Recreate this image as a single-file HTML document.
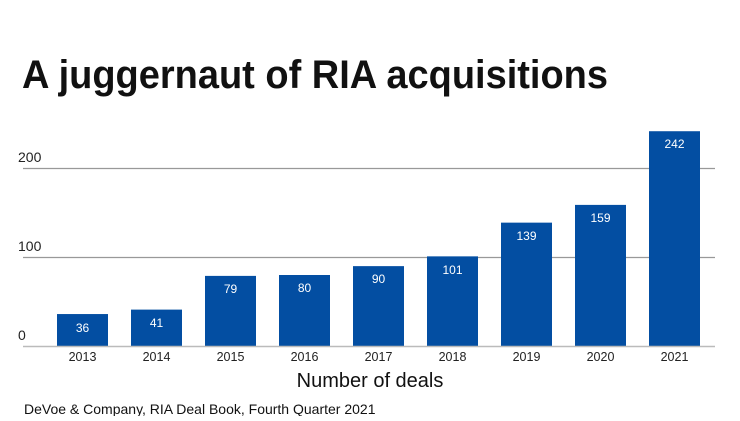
<!DOCTYPE html>
<html><head><style>
body{margin:0;width:740px;height:416px;background:#fff;overflow:hidden;font-family:"Liberation Sans",sans-serif}
</style></head><body>
<svg width="740" height="416" xmlns="http://www.w3.org/2000/svg" font-family="Liberation Sans, sans-serif">
<text x="22" y="88" font-size="40" font-weight="bold" fill="#111" textLength="586" lengthAdjust="spacingAndGlyphs">A juggernaut of RIA acquisitions</text>
<g stroke="#999" stroke-width="1.3">
<line x1="23" x2="715" y1="168.5" y2="168.5"/>
<line x1="23" x2="715" y1="257.5" y2="257.5"/>
</g>
<g font-size="14" fill="#222">
<text x="18" y="162">200</text>
<text x="18" y="251">100</text>
<text x="18" y="340">0</text>
</g>
<g fill="#034ea2">
<rect x="57" y="314.05" width="51" height="31.95"/>
<rect x="131" y="309.61" width="51" height="36.39"/>
<rect x="205" y="275.89" width="51" height="70.11"/>
<rect x="279" y="275" width="51" height="71"/>
<rect x="353" y="266.13" width="51" height="79.87"/>
<rect x="427" y="256.36" width="51" height="89.64"/>
<rect x="501" y="222.64" width="51" height="123.36"/>
<rect x="575" y="204.89" width="51" height="141.11"/>
<rect x="649" y="131.22" width="51" height="214.78"/>
</g>
<g font-size="12" fill="#fff" text-anchor="middle">
<text x="82.5" y="332">36</text>
<text x="156.5" y="327">41</text>
<text x="230.5" y="293">79</text>
<text x="304.5" y="292">80</text>
<text x="378.5" y="283">90</text>
<text x="452.5" y="274">101</text>
<text x="526.5" y="240">139</text>
<text x="600.5" y="222">159</text>
<text x="674.5" y="148">242</text>
</g>
<g font-size="12.5" fill="#222" text-anchor="middle">
<text x="82.5" y="361">2013</text>
<text x="156.5" y="361">2014</text>
<text x="230.5" y="361">2015</text>
<text x="304.5" y="361">2016</text>
<text x="378.5" y="361">2017</text>
<text x="452.5" y="361">2018</text>
<text x="526.5" y="361">2019</text>
<text x="600.5" y="361">2020</text>
<text x="674.5" y="361">2021</text>
</g>
<line x1="23" x2="715" y1="346.5" y2="346.5" stroke="#bbb" stroke-width="1.5"/>
<text x="370" y="387" font-size="20" text-anchor="middle" fill="#111">Number of deals</text>
<text x="24" y="414" font-size="14" fill="#111">DeVoe &amp; Company, RIA Deal Book, Fourth Quarter 2021</text>
</svg>
</body></html>
